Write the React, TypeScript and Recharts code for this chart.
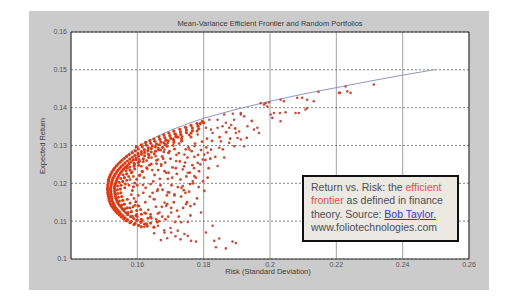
import React from 'react';
import {
  ScatterChart,
  Scatter,
  XAxis,
  YAxis,
  CartesianGrid,
  ReferenceArea,
} from 'recharts';

// efficient frontier (risk, return)
const frontierRisk = [0.1511, 0.1515, 0.153, 0.155, 0.1575, 0.16, 0.165, 0.17, 0.175, 0.18, 0.19, 0.2, 0.21, 0.22, 0.23, 0.24, 0.25];
const frontierReturn = [0.1192, 0.1215, 0.1238, 0.1261, 0.128, 0.1296, 0.132, 0.134, 0.1357, 0.1372, 0.1396, 0.1417, 0.1436, 0.1453, 0.147, 0.1486, 0.1501];

// dense crescent of portfolios hugging the frontier
const edgePortfolios: [number, number][] = [
  [0.1612, 0.1085], [0.163, 0.1087], [0.165, 0.1084],
  [0.159, 0.1091], [0.1604, 0.1089], [0.1622, 0.1092],
  [0.1578, 0.1096], [0.1593, 0.1094], [0.1611, 0.1097], [0.164, 0.1095],
  [0.1567, 0.1101], [0.1581, 0.1099], [0.1598, 0.1102],
  [0.1559, 0.1106], [0.157, 0.1104], [0.1589, 0.1107], [0.1612, 0.1105],
  [0.1552, 0.1111], [0.1563, 0.1109], [0.158, 0.1112],
  [0.1546, 0.1116], [0.1557, 0.1114], [0.1571, 0.1117], [0.1596, 0.1115],
  [0.154, 0.1121], [0.1551, 0.1119], [0.1566, 0.1122],
  [0.1535, 0.1126], [0.1546, 0.1124], [0.156, 0.1127], [0.1582, 0.1125],
  [0.153, 0.1131], [0.1541, 0.1129], [0.1555, 0.1132],
  [0.1526, 0.1136], [0.1536, 0.1134], [0.1551, 0.1137], [0.157, 0.1135],
  [0.1522, 0.1141], [0.1532, 0.1139], [0.1546, 0.1142],
  [0.1519, 0.1146], [0.1529, 0.1144], [0.1542, 0.1147], [0.1561, 0.1145],
  [0.1517, 0.1151], [0.1527, 0.1149], [0.1539, 0.1152],
  [0.1515, 0.1156], [0.1524, 0.1154], [0.1537, 0.1157], [0.1556, 0.1155],
  [0.1514, 0.1161], [0.1523, 0.1159], [0.1535, 0.1162],
  [0.1513, 0.1166], [0.1522, 0.1164], [0.1534, 0.1167], [0.1553, 0.1165],
  [0.1512, 0.1171], [0.1521, 0.1169], [0.1533, 0.1172],
  [0.1511, 0.1176], [0.152, 0.1174], [0.1532, 0.1177], [0.155, 0.1175],
  [0.1511, 0.1181], [0.152, 0.1179], [0.1532, 0.1182],
  [0.151, 0.1186], [0.1519, 0.1184], [0.1531, 0.1187], [0.1549, 0.1185],
  [0.1511, 0.1191], [0.152, 0.1189], [0.1532, 0.1192],
  [0.1511, 0.1196], [0.1521, 0.1194], [0.1533, 0.1197], [0.1551, 0.1195],
  [0.1512, 0.1201], [0.1522, 0.1199], [0.1535, 0.1202],
  [0.1513, 0.1206], [0.1523, 0.1204], [0.1537, 0.1207], [0.1556, 0.1205],
  [0.1514, 0.1211], [0.1525, 0.1209], [0.1539, 0.1212],
  [0.1516, 0.1216], [0.1527, 0.1214], [0.1542, 0.1217], [0.1561, 0.1215],
  [0.1518, 0.1221], [0.153, 0.1219], [0.1545, 0.1222],
  [0.1521, 0.1226], [0.1533, 0.1224], [0.1549, 0.1227], [0.1568, 0.1225],
  [0.1524, 0.1231], [0.1537, 0.1229], [0.1553, 0.1232],
  [0.1528, 0.1236], [0.1541, 0.1234], [0.1558, 0.1237], [0.1578, 0.1235],
  [0.1532, 0.1241], [0.1546, 0.1239], [0.1563, 0.1242],
  [0.1537, 0.1246], [0.1551, 0.1244], [0.1569, 0.1247], [0.159, 0.1245],
  [0.1542, 0.1251], [0.1557, 0.1249], [0.1575, 0.1252],
  [0.1548, 0.1256], [0.1563, 0.1254], [0.1581, 0.1257], [0.1603, 0.1255],
  [0.1554, 0.1261], [0.157, 0.1259], [0.1588, 0.1262],
  [0.1561, 0.1266], [0.1577, 0.1264], [0.1596, 0.1267], [0.1618, 0.1265],
  [0.1568, 0.1271], [0.1585, 0.1269], [0.1604, 0.1272],
  [0.1576, 0.1276], [0.1593, 0.1274], [0.1613, 0.1277], [0.1635, 0.1275],
  [0.1585, 0.1281], [0.1602, 0.1279], [0.1622, 0.1282],
  [0.1594, 0.1286], [0.1612, 0.1284], [0.1632, 0.1287], [0.1655, 0.1285],
  [0.1603, 0.1291], [0.1621, 0.1289], [0.1642, 0.1292],
  [0.1615, 0.1296], [0.1633, 0.1294], [0.1654, 0.1297], [0.1676, 0.1295],
  [0.1627, 0.1301], [0.1645, 0.1299], [0.1666, 0.1302],
  [0.164, 0.1306], [0.1658, 0.1304], [0.168, 0.1307],
  [0.1653, 0.1311], [0.1671, 0.1309], [0.1693, 0.1312],
  [0.1668, 0.1316], [0.1686, 0.1314], [0.1708, 0.1317],
  [0.1683, 0.1321], [0.1701, 0.1319], [0.1722, 0.1322],
  [0.1698, 0.1326], [0.1716, 0.1324],
  [0.1713, 0.1331], [0.1731, 0.1329],
  [0.173, 0.1336], [0.1748, 0.1334],
  [0.1748, 0.1341], [0.1766, 0.1339],
  [0.1766, 0.1346], [0.1785, 0.1344],
  [0.1783, 0.1351], [0.179, 0.1358], [0.1796, 0.1364], [0.18, 0.136],
  [0.1597, 0.1297], [0.1612, 0.1302], [0.1625, 0.1308], [0.1638, 0.1313], [0.165, 0.1317],
  [0.1665, 0.1323], [0.168, 0.1328], [0.1695, 0.1333], [0.171, 0.1338], [0.1728, 0.1343],
  [0.1745, 0.1348], [0.1762, 0.1353], [0.178, 0.1358],
];

// second, looser layer of the crescent
const bandPortfolios: [number, number][] = [
  [0.1628, 0.1093], [0.166, 0.1098], [0.16, 0.1103], [0.1632, 0.1108],
  [0.1585, 0.1113], [0.1612, 0.1118], [0.164, 0.1112],
  [0.1572, 0.1123], [0.1598, 0.1128], [0.1625, 0.1121],
  [0.1562, 0.1133], [0.1587, 0.1138], [0.161, 0.1131],
  [0.1553, 0.1143], [0.1578, 0.1148], [0.1602, 0.1141],
  [0.1546, 0.1153], [0.157, 0.1158], [0.1595, 0.1151],
  [0.1543, 0.1163], [0.1541, 0.1173],
  [0.154, 0.1183], [0.1562, 0.1188], [0.1585, 0.1181],
  [0.1541, 0.1193], [0.1564, 0.1198], [0.1588, 0.1191],
  [0.1545, 0.1203], [0.1568, 0.1208], [0.1592, 0.1201],
  [0.155, 0.1213], [0.1574, 0.1218], [0.1598, 0.1211],
  [0.1557, 0.1223], [0.1582, 0.1228], [0.1606, 0.1221],
  [0.1566, 0.1233], [0.1592, 0.1238], [0.1616, 0.1231],
  [0.1577, 0.1243], [0.1604, 0.1248], [0.1628, 0.1241],
  [0.159, 0.1253], [0.1618, 0.1258], [0.1642, 0.1251],
  [0.1605, 0.1263], [0.1634, 0.1268], [0.1658, 0.1261],
  [0.1622, 0.1273], [0.1651, 0.1278], [0.1675, 0.1271],
  [0.1642, 0.1283], [0.167, 0.1288], [0.1694, 0.1281],
  [0.1663, 0.1293], [0.169, 0.1298], [0.1712, 0.1291],
  [0.1685, 0.1303], [0.171, 0.1308],
  [0.171, 0.1313], [0.1733, 0.1318],
  [0.1735, 0.1323], [0.1757, 0.1328],
  [0.1762, 0.1333], [0.178, 0.1338],
];

// medium density cloud inside the crescent
const innerPortfolios: [number, number][] = [
  [0.1578, 0.121], [0.159, 0.116], [0.1585, 0.123], [0.16, 0.1195], [0.1612, 0.1245],
  [0.1605, 0.114], [0.162, 0.1215], [0.1618, 0.1175], [0.1628, 0.126], [0.1633, 0.113],
  [0.164, 0.1198], [0.1645, 0.1235], [0.165, 0.1158], [0.1655, 0.1272], [0.1662, 0.112],
  [0.1668, 0.1212], [0.1672, 0.125], [0.1676, 0.1183], [0.168, 0.1283], [0.1685, 0.1105],
  [0.169, 0.1145], [0.1694, 0.1228], [0.17, 0.1265], [0.1703, 0.1195], [0.1708, 0.13],
  [0.1712, 0.1168], [0.1716, 0.124], [0.172, 0.1128], [0.1725, 0.128], [0.173, 0.121],
  [0.1735, 0.1312], [0.174, 0.1182], [0.1744, 0.1255], [0.175, 0.115], [0.1754, 0.1295],
  [0.1758, 0.1228], [0.1762, 0.1322], [0.1768, 0.12], [0.1772, 0.127], [0.1578, 0.1135],
  [0.1592, 0.125], [0.1598, 0.1118], [0.1608, 0.1222], [0.1615, 0.1102], [0.1625, 0.1188],
  [0.1636, 0.1248], [0.1642, 0.1108], [0.1652, 0.1222], [0.166, 0.118], [0.1664, 0.1288],
  [0.1674, 0.1138], [0.1682, 0.1232], [0.1688, 0.13], [0.1696, 0.1176], [0.1706, 0.1242],
  [0.1714, 0.1098], [0.1722, 0.119], [0.1728, 0.1258], [0.1738, 0.1135], [0.1748, 0.1218],
  [0.1756, 0.1178], [0.1766, 0.1248], [0.1774, 0.1305], [0.178, 0.116], [0.1786, 0.1232],
  [0.1792, 0.1288], [0.1798, 0.1205], [0.1805, 0.1262], [0.181, 0.1318], [0.157, 0.124],
  [0.1582, 0.117], [0.1596, 0.1262], [0.1603, 0.1168], [0.1614, 0.1232], [0.1624, 0.115],
  [0.1632, 0.1278], [0.1646, 0.1175], [0.1658, 0.1252], [0.1666, 0.11], [0.1678, 0.1265],
  [0.1692, 0.1212], [0.1702, 0.1135], [0.1718, 0.1275], [0.1732, 0.1165], [0.1746, 0.129],
  [0.176, 0.114], [0.1776, 0.1215], [0.179, 0.125], [0.1802, 0.118],
  [0.1575, 0.1195], [0.1588, 0.1218], [0.1593, 0.1142], [0.1607, 0.1258], [0.1617, 0.1196],
  [0.1622, 0.1122], [0.163, 0.1238], [0.1638, 0.1165], [0.1643, 0.1268], [0.1648, 0.1205],
  [0.1656, 0.1138], [0.1663, 0.1235], [0.167, 0.1195], [0.1675, 0.1112], [0.1684, 0.1255],
  [0.1689, 0.1168], [0.1697, 0.1285], [0.1705, 0.1215], [0.171, 0.115], [0.1719, 0.1225],
  [0.1726, 0.1305], [0.1733, 0.1188], [0.1741, 0.1245], [0.1751, 0.1268], [0.1759, 0.1198],
  [0.1764, 0.1285], [0.1771, 0.124], [0.1783, 0.1275], [0.1795, 0.131], [0.1808, 0.1295],
  [0.1815, 0.124], [0.1825, 0.1312], [0.1835, 0.127], [0.1848, 0.1322], [0.1858, 0.129],
  [0.1868, 0.1335], [0.188, 0.1318], [0.1895, 0.1345], [0.193, 0.132], [0.1945, 0.1365],
  [0.16, 0.1112], [0.164, 0.1118], [0.1657, 0.1105], [0.1693, 0.1112], [0.1725, 0.1112],
  [0.176, 0.1115], [0.1745, 0.1175], [0.1785, 0.119], [0.1812, 0.1215], [0.182, 0.1265],
];

// scattered portfolios further from the frontier
const outerPortfolios: [number, number][] = [
  [0.1747, 0.1347], [0.1782, 0.1329], [0.1807, 0.1347], [0.1822, 0.1342], [0.1827, 0.1333],
  [0.1842, 0.1347], [0.1857, 0.1351], [0.1867, 0.136], [0.1877, 0.1347], [0.1897, 0.1333],
  [0.1902, 0.132], [0.1852, 0.1311], [0.1847, 0.1294], [0.1822, 0.1289], [0.1812, 0.1281],
  [0.1802, 0.1276], [0.1797, 0.1263], [0.1782, 0.1254], [0.1772, 0.1298], [0.1757, 0.1289],
  [0.1742, 0.1276], [0.1732, 0.1311], [0.1717, 0.1329], [0.1692, 0.1307], [0.1682, 0.1289],
  [0.1717, 0.1259], [0.1737, 0.1237], [0.1752, 0.1228], [0.1772, 0.1219], [0.1662, 0.1263],
  [0.1672, 0.1246], [0.1687, 0.1228], [0.1877, 0.1307], [0.1892, 0.1298], [0.1922, 0.1298],
  [0.1912, 0.1316], [0.1862, 0.1268], [0.1842, 0.1246], [0.1892, 0.1368], [0.1912, 0.1382],
  [0.1767, 0.1206], [0.1737, 0.1193], [0.1712, 0.1171], [0.1692, 0.1176], [0.1682, 0.1149],
  [0.1747, 0.1145], [0.1772, 0.1145], [0.1702, 0.1123], [0.1667, 0.1123], [0.1792, 0.1123],
  [0.1752, 0.1098], [0.1732, 0.1097], [0.1722, 0.1075], [0.1702, 0.107], [0.1682, 0.107],
  [0.1662, 0.1088], [0.1742, 0.1066], [0.1752, 0.1061], [0.1762, 0.1048], [0.1777, 0.1046],
  [0.1807, 0.107], [0.1827, 0.1088], [0.1832, 0.1048], [0.1847, 0.1054], [0.1837, 0.1031],
  [0.1867, 0.1028], [0.1887, 0.1046], [0.1897, 0.1042], [0.1662, 0.1184], [0.1687, 0.114],
  [0.1652, 0.1158], [0.1621, 0.1085], [0.1651, 0.1068], [0.1681, 0.1076], [0.1671, 0.105],
  [0.169, 0.1055], [0.17, 0.1082], [0.1715, 0.106], [0.173, 0.1052],
  [0.1972, 0.1412], [0.1987, 0.1412], [0.1992, 0.1403], [0.1997, 0.1414], [0.1982, 0.1408],
  [0.2032, 0.1421], [0.2042, 0.1417], [0.2082, 0.1426], [0.2097, 0.1426], [0.2112, 0.1421],
  [0.2132, 0.1417], [0.2112, 0.1399], [0.2107, 0.1395], [0.2087, 0.1386], [0.2077, 0.1386],
  [0.203, 0.1386], [0.2047, 0.1388], [0.2012, 0.1386], [0.2002, 0.1382], [0.2007, 0.1373],
  [0.2032, 0.1364], [0.2208, 0.1439], [0.1962, 0.1347], [0.1952, 0.1342], [0.1932, 0.1351],
  [0.1922, 0.1377], [0.1912, 0.1386], [0.2313, 0.1461], [0.2228, 0.1456], [0.2211, 0.1439],
  [0.2233, 0.1443], [0.2243, 0.1439], [0.2146, 0.1442], [0.1967, 0.1333], [0.1907, 0.1337],
  [0.1888, 0.1384], [0.1883, 0.1354], [0.1862, 0.1382], [0.1842, 0.1368], [0.1817, 0.1368],
];

const xTicks = [0.14, 0.16, 0.18, 0.2, 0.22, 0.24, 0.26];
const yTicks = [0.1, 0.11, 0.12, 0.13, 0.14, 0.15, 0.16];

const frontier = frontierRisk.map((risk, i) => ({ risk, ret: frontierReturn[i] }));
const toPoints = (list: [number, number][]) => list.map(([risk, ret]) => ({ risk, ret }));

const font = '"Liberation Sans", Arial, sans-serif';
const tickStyle = { fontSize: 7, fill: '#555', fontFamily: font };

const Dot = (color: string, r: number) => (props: any) => (
  <circle cx={props.cx} cy={props.cy} r={r} fill={color} />
);

export default function App() {
  return (
    <div style={{ position: 'absolute', left: 0, top: 0, width: 515, height: 305, background: '#fff', fontFamily: font }}>
      <div style={{ position: 'absolute', left: 29, top: 11, width: 460, height: 279, background: '#cbcbcb' }} />
      <div style={{ position: 'absolute', left: 0, top: 0 }}>
        <ScatterChart width={515} height={305} margin={{ top: 32, right: 46, bottom: 16, left: 31 }}>
          <CartesianGrid horizontal={false} stroke="#8a8a8a" strokeWidth={0.8} fill="#fff" />
          <CartesianGrid vertical={false} stroke="#666" strokeDasharray="2 2" strokeWidth={0.8} />
          <XAxis
            type="number"
            dataKey="risk"
            domain={[0.14, 0.26]}
            ticks={xTicks}
            tickFormatter={(v: number) => (v === 0.14 ? '' : String(v))}
            tick={tickStyle}
            tickLine={false}
            tickSize={0}
            tickMargin={3}
            axisLine={false}
            height={30}
            allowDataOverflow
          />
          <YAxis
            type="number"
            dataKey="ret"
            domain={[0.1, 0.16]}
            ticks={yTicks}
            tick={tickStyle}
            tickLine={false}
            tickSize={0}
            tickMargin={4}
            axisLine={false}
            width={40}
            allowDataOverflow
          />
          <Scatter
            data={frontier}
            line={{ stroke: '#8289bb', strokeWidth: 0.9 }}
            lineType="joint"
            shape={() => <g />}
            isAnimationActive={false}
          />
          <Scatter data={toPoints(innerPortfolios)} shape={Dot('#cf4a2c', 1.4)} isAnimationActive={false} />
          <Scatter data={toPoints(outerPortfolios)} shape={Dot('#c0503f', 1.3)} isAnimationActive={false} />
          <Scatter data={toPoints(bandPortfolios)} shape={Dot('#d8401c', 1.5)} isAnimationActive={false} />
          <Scatter data={toPoints(edgePortfolios)} shape={Dot('#dc3a16', 1.6)} isAnimationActive={false} />
          <ReferenceArea x1={0.14} x2={0.26} y1={0.1} y2={0.16} fill="none" stroke="#333" strokeWidth={1} ifOverflow="visible" />
        </ScatterChart>
      </div>
      <div style={{ position: 'absolute', left: 0, width: 540, top: 19, fontSize: 7.5, lineHeight: '10px', textAlign: 'center', color: '#3a3a3a' }}>
        Mean-Variance Efficient Frontier and Random Portfolios
      </div>
      <div style={{ position: 'absolute', left: 168, width: 200, top: 267, fontSize: 7.5, lineHeight: '10px', textAlign: 'center', color: '#3a3a3a' }}>
        Risk (Standard Deviation)
      </div>
      <div style={{ position: 'absolute', left: -7, width: 100, top: 141, height: 10, fontSize: 7.5, lineHeight: '10px', textAlign: 'center', color: '#3a3a3a', transform: 'rotate(-90deg)' }}>
        Expected Return
      </div>
      <div
        style={{
          position: 'absolute',
          left: 302,
          top: 175,
          width: 157,
          height: 67,
          boxSizing: 'border-box',
          border: '2px solid #111',
          background: '#ebe9e1',
          padding: '4px 4px 0 7px',
          fontSize: 10.5,
          lineHeight: '13.3px',
          color: '#4c4c58',
          whiteSpace: 'nowrap',
        }}
      >
        Return vs. Risk: the <span style={{ color: '#e05050' }}>efficient</span>
        <br />
        <span style={{ color: '#e05050' }}>frontier</span> as defined in finance
        <br />
        theory. Source: <span style={{ color: '#3535d0', textDecoration: 'underline' }}>Bob Taylor.</span>
        <br />
        www.foliotechnologies.com
      </div>
    </div>
  );
}
